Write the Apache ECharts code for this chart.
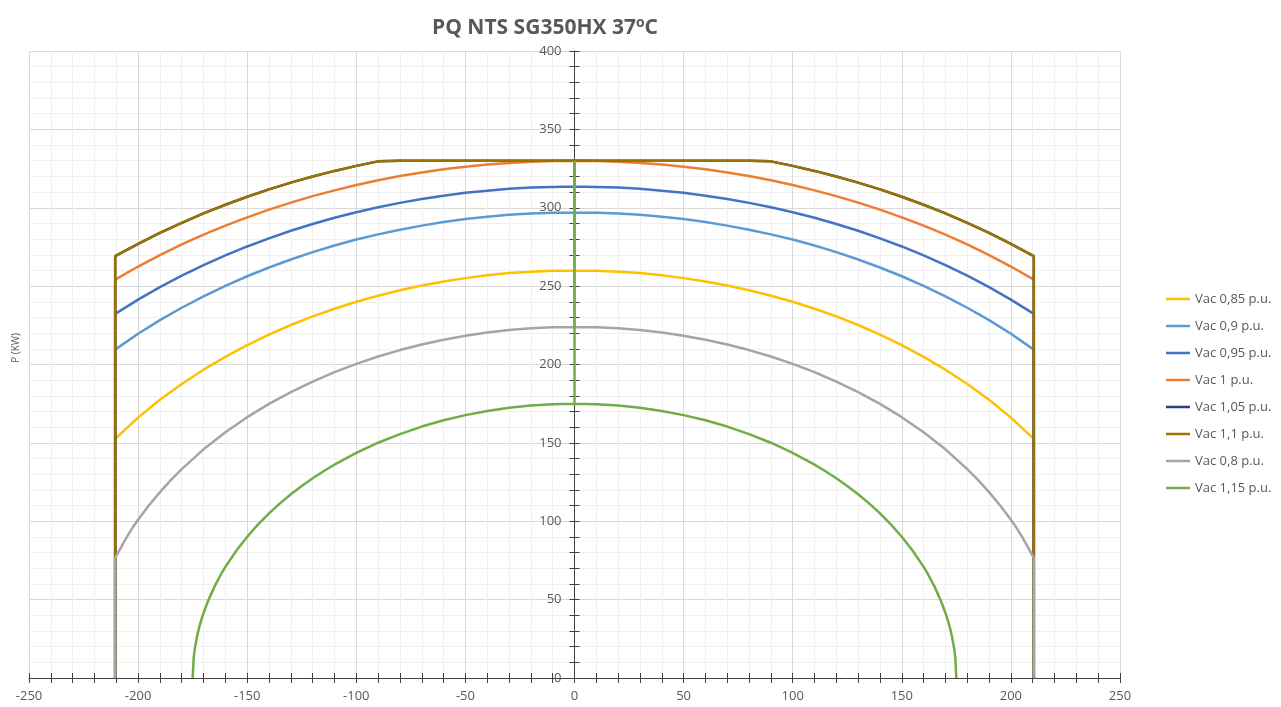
<!DOCTYPE html>
<html>
<head>
<meta charset="utf-8">
<script src="https://cdn.jsdelivr.net/npm/echarts@6/dist/echarts.min.js"></script>
<style>html,body{margin:0;padding:0;background:#fff}#c{width:1281px;height:707px}</style>
</head>
<body>
<div id="c"></div>
<script>
// ---- data ----
var seriesNames = ['Vac 0,85 p.u.', 'Vac 0,9 p.u.', 'Vac 0,95 p.u.', 'Vac 1 p.u.', 'Vac 1,05 p.u.', 'Vac 1,1 p.u.', 'Vac 0,8 p.u.', 'Vac 1,15 p.u.'];
var seriesColors = ['#FFC000', '#5B9BD5', '#4472C4', '#ED7D31', '#264478', '#997300', '#A5A5A5', '#70AD47'];
var pMaxLimit = 330;

// shared Q grid (kVAr)
var qGrid = [-210.5,-200,-190,-180,-170,-160,-150,-140,-130,-120,-110,-100,-90,-80,-70,-60,-50,-40,-30,-20,-10,0,
             10,20,30,40,50,60,70,80,90,100,110,120,130,140,150,160,170,180,190,200,210.5];

var p085 = [152.6,166.1,177.5,187.6,196.7,204.9,212.4,219.1,225.2,230.7,235.6,240.0,243.9,247.4,250.4,253.0,255.1,256.9,258.3,259.2,259.8,260,
            259.8,259.2,258.3,256.9,255.1,253.0,250.4,247.4,243.9,240.0,235.6,230.7,225.2,219.1,212.4,204.9,196.7,187.6,177.5,166.1,152.6];
var p090 = [209.5,219.6,228.3,236.2,243.5,250.2,256.3,261.9,267.0,271.7,275.9,279.7,283.0,286.0,288.6,290.9,292.8,294.3,295.5,296.3,296.8,297,
            296.8,296.3,295.5,294.3,292.8,290.9,288.6,286.0,283.0,279.7,275.9,271.7,267.0,261.9,256.3,250.2,243.5,236.2,228.3,219.6,209.5];
var p095 = [232.3,241.4,249.4,256.7,263.4,269.6,275.3,280.5,285.3,289.6,293.6,297.1,300.3,303.1,305.6,307.7,309.5,310.9,312.1,312.9,313.3,313.5,
            313.3,312.9,312.1,310.9,309.5,307.7,305.6,303.1,300.3,297.1,293.6,289.6,285.3,280.5,275.3,269.6,263.4,256.7,249.4,241.4,232.3];
var p100 = [254.1,262.5,269.8,276.6,282.8,288.6,293.9,298.8,303.3,307.4,311.1,314.5,317.5,320.2,322.5,324.5,326.2,327.6,328.6,329.4,329.8,330,
            329.8,329.4,328.6,327.6,326.2,324.5,322.5,320.2,317.5,314.5,311.1,307.4,303.3,298.8,293.9,288.6,282.8,276.6,269.8,262.5,254.1];
var p105 = [269.1,277.0,284.0,290.4,296.4,301.9,307.0,311.7,316.0,319.9,323.5,326.7,329.6,330,330,330,330,330,330,330,330,330,
            330,330,330,330,330,330,330,330,329.6,326.7,323.5,319.9,316.0,311.7,307.0,301.9,296.4,290.4,284.0,277.0,269.1];
var p110 = [269.1,277.0,284.0,290.4,296.4,301.9,307.0,311.7,316.0,319.9,323.5,326.7,329.6,330,330,330,330,330,330,330,330,330,
            330,330,330,330,330,330,330,330,329.6,326.7,323.5,319.9,316.0,311.7,307.0,301.9,296.4,290.4,284.0,277.0,269.1];

var q080 = [-210.5,-207,-205,-202,-200,-195,-190,-185,-180,-170,-160,-150,-140,-130,-120,-110,-100,-90,-80,-70,-60,-50,-40,-30,-20,-10,0,
            10,20,30,40,50,60,70,80,90,100,110,120,130,140,150,160,170,180,185,190,195,200,202,205,207,210.5];
var p080 = [76.6,85.4,90.3,97.0,100.9,110.2,118.6,126.2,133.3,145.9,156.8,166.4,174.9,182.4,189.1,195.1,200.4,205.1,209.2,212.8,215.8,218.3,220.4,222.0,223.1,223.8,224,
            223.8,223.1,222.0,220.4,218.3,215.8,212.8,209.2,205.1,200.4,195.1,189.1,182.4,174.9,166.4,156.8,145.9,133.3,126.2,118.6,110.2,100.9,97.0,90.3,85.4,76.6];

var q115 = [-175,-174.5,-174,-173,-172,-171,-170,-168,-165,-162,-160,-155,-150,-145,-140,-135,-130,-125,-120,-115,-110,-100,-90,-80,-70,-60,-50,-40,-30,-20,-10,0,
            10,20,30,40,50,60,70,80,90,100,110,115,120,125,130,135,140,145,150,155,160,162,165,168,170,171,172,173,174,174.5,175];
var p115 = [0,13.2,18.7,26.4,32.3,37.2,41.5,49.0,58.3,66.2,70.9,81.2,90.1,98.0,105.0,111.4,117.2,122.5,127.4,131.9,136.1,143.6,150.1,155.6,160.4,164.4,167.7,170.4,172.4,173.9,174.7,175,
            174.7,173.9,172.4,170.4,167.7,164.4,160.4,155.6,150.1,143.6,136.1,131.9,127.4,122.5,117.2,111.4,105.0,98.0,90.1,81.2,70.9,66.2,58.3,49.0,41.5,37.2,32.3,26.4,18.7,13.2,0];

var xTicks = {min: -250, max: 250, interval: 50};
var yTicks = {min: 0, max: 400, interval: 50};

// ---- build ----
function build(qs, ps, closeSides) {
  var d = [];
  if (closeSides) d.push([qs[0], 0]);
  for (var i = 0; i < qs.length; i++) {
    d.push([qs[i], ps[i]]);
    if (qs[i] === 0 && ps[i] < pMaxLimit) { d.push([0, pMaxLimit]); d.push([0, ps[i]]); }
  }
  if (closeSides) d.push([qs[qs.length - 1], 0]);
  return d;
}
var datasets = [
  build(qGrid, p085, true), build(qGrid, p090, true), build(qGrid, p095, true), build(qGrid, p100, true),
  build(qGrid, p105, true), build(qGrid, p110, true), build(q080, p080, true), build(q115, p115, false)
];

var series = seriesNames.map(function (n, i) {
  return {
    name: n, type: 'line', xAxisIndex: 0, yAxisIndex: 0, data: datasets[i],
    showSymbol: false, symbol: 'none', smooth: false,
    lineStyle: {color: seriesColors[i], width: 2.5}, itemStyle: {color: seriesColors[i]},
    clip: false
  };
});

var labelStyle = {color: '#595959', fontSize: 13, fontFamily: 'Open Sans'};
var axisLineStyle = {color: '#404040', width: 1};
var gridLeft = 29, gridRight = 161, W = 1281;
var yAxisOffset = -((W - gridLeft - gridRight) / 2); // y axis drawn at Q = 0

var chart = echarts.init(document.getElementById('c'), null, {renderer: 'canvas'});
chart.setOption({
  animation: false,
  backgroundColor: '#fff',
  title: {
    text: '{a|PQ NTS SG350HX 37}{s|o}{a|C}',
    left: 540, top: 11, textAlign: 'center',
    textStyle: {
      rich: {
        a: {fontSize: 21, fontWeight: 'bold', color: '#595959', fontFamily: 'Open Sans'},
        s: {fontSize: 14, fontWeight: 'bold', color: '#595959', fontFamily: 'Open Sans', padding: [0, 0, 11, 0]}
      }
    }
  },
  legend: {
    orient: 'vertical', left: 1161, top: 286, itemWidth: 24, itemHeight: 2.5, itemGap: 11, itemTextGap: 4,
    icon: 'rect',
    textStyle: {color: '#595959', fontSize: 13, fontFamily: 'Open Sans', lineHeight: 16},
    data: seriesNames
  },
  graphic: [{
    type: 'text', left: 11, top: 333, rotation: Math.PI / 2,
    style: {text: 'P (KW)', fill: '#595959', fontSize: 10, fontFamily: 'Open Sans'}
  }],
  grid: {left: gridLeft, right: gridRight, top: 51, bottom: 29, containLabel: false},
  xAxis: [{
    type: 'value', min: xTicks.min, max: xTicks.max, interval: xTicks.interval, position: 'bottom',
    axisLine: {show: true, onZero: false, lineStyle: axisLineStyle},
    axisTick: {show: true, length: 5, lineStyle: axisLineStyle},
    minorTick: {show: true, splitNumber: 5, length: 5, lineStyle: axisLineStyle},
    axisLabel: Object.assign({margin: 12}, labelStyle),
    splitLine: {show: true, lineStyle: {color: '#D9D9D9'}},
    minorSplitLine: {show: true, lineStyle: {color: '#F0F0F0'}}
  }, {
    type: 'value', min: xTicks.min, max: xTicks.max, interval: xTicks.interval, position: 'bottom',
    axisLine: {show: false, onZero: false},
    axisTick: {show: true, inside: true, length: 5, lineStyle: axisLineStyle},
    minorTick: {show: true, splitNumber: 5, length: 5, lineStyle: axisLineStyle},
    axisLabel: {show: false}, splitLine: {show: false}
  }],
  yAxis: [{
    type: 'value', min: yTicks.min, max: yTicks.max, interval: yTicks.interval, position: 'left', offset: yAxisOffset,
    axisLine: {show: true, onZero: false, lineStyle: axisLineStyle},
    axisTick: {show: true, length: 5, lineStyle: axisLineStyle},
    minorTick: {show: true, splitNumber: 5, length: 5, lineStyle: axisLineStyle},
    axisLabel: Object.assign({margin: 13}, labelStyle),
    splitLine: {show: true, lineStyle: {color: '#D9D9D9'}},
    minorSplitLine: {show: true, lineStyle: {color: '#F0F0F0'}}
  }, {
    type: 'value', min: yTicks.min, max: yTicks.max, interval: yTicks.interval, position: 'left', offset: yAxisOffset,
    axisLine: {show: false, onZero: false},
    axisTick: {show: true, inside: true, length: 5, lineStyle: axisLineStyle},
    minorTick: {show: true, splitNumber: 5, length: 5, lineStyle: axisLineStyle},
    axisLabel: {show: false}, splitLine: {show: false}
  }],
  series: series
});
</script>
</body>
</html>
